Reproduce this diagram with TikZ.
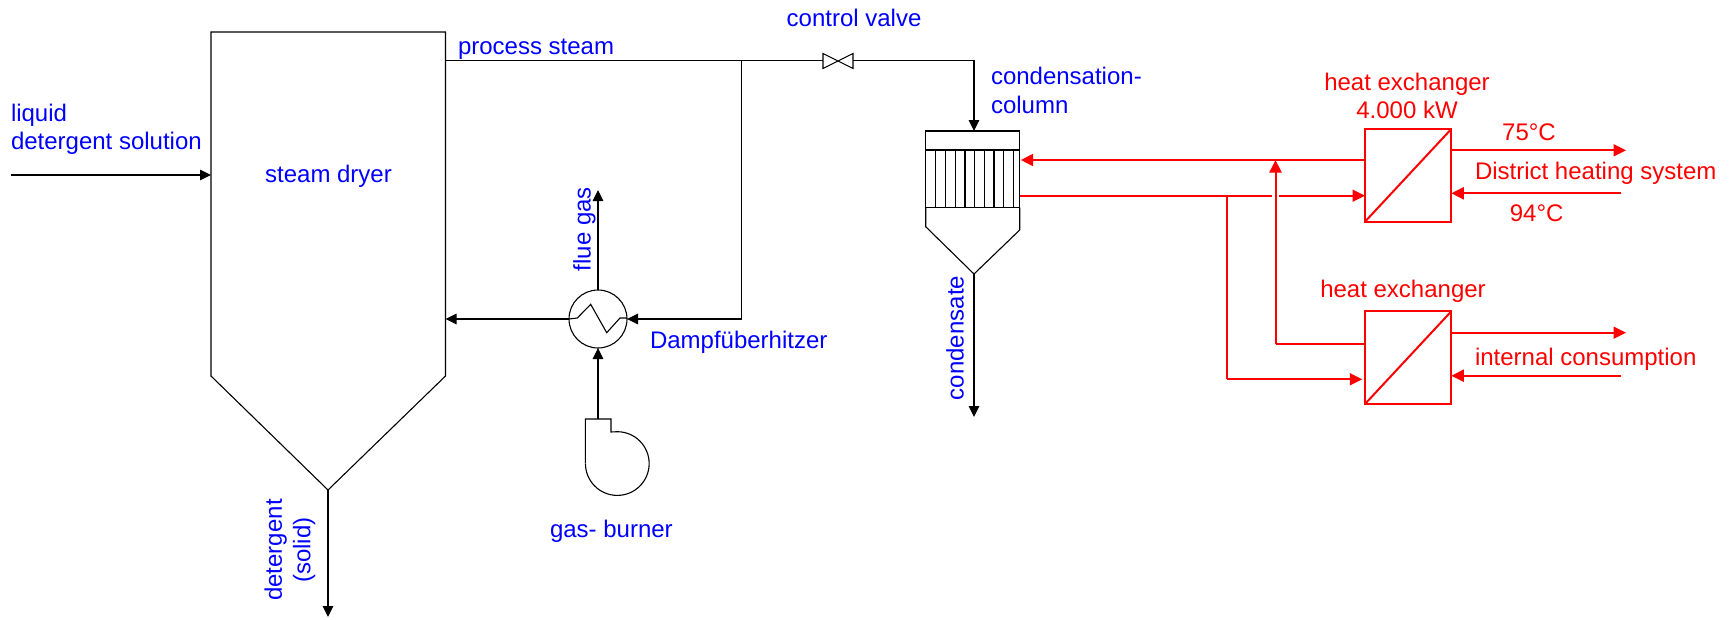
\documentclass[tikz,border=0pt]{standalone}
\usepackage{fontspec}
\setmainfont{Liberation Sans}
\usetikzlibrary{arrows.meta}
\tikzset{
  blk/.style={draw=black,line width=1.1pt,line join=miter},
  redl/.style={draw=red,line width=2pt,line join=miter},
  tipb/.style={-{Triangle[length=11pt,width=10.5pt]}},
  tipr/.style={-{Triangle[length=12.5pt,width=12pt]}},
  lab/.style={text=blue,inner sep=0pt,outer sep=0pt,font=\fontsize{24}{28.5}\selectfont},
  labr/.style={text=red,inner sep=0pt,outer sep=0pt,font=\fontsize{24}{28.5}\selectfont},
  hxbox/.style={draw=red,line width=2pt,fill=white,minimum width=86.3pt,minimum height=92.7pt,inner sep=0pt,outer sep=0pt},
  cell/.style={draw=black,line width=1.1pt,minimum width=94pt,inner sep=0pt,outer sep=0pt}
}
\begin{document}
\begin{tikzpicture}[x=1pt,y=-1pt]
\useasboundingbox (0,0) rectangle (1733,619);
% dryer
\coordinate (dTL) at (211,32);
\coordinate (dTR) at (445.5,32);
\coordinate (dSR) at (445.5,376);
\coordinate (dTip) at (328,490);
\coordinate (dSL) at (211,376);
\draw[blk] (dTL)--(dTR)--(dSR)--(dTip)--(dSL)--cycle;
\coordinate (dIn) at (211,175);
\coordinate (dSteam) at (445.5,60.7);
\coordinate (dBack) at (445.5,319);
\coordinate (liqStart) at (11,175);
\coordinate (dOut) at (328,617);
\draw[blk,tipb] (liqStart)--(dIn);
\draw[blk,tipb] (dTip)--(dOut);
% heater
\node[circle,draw=black,line width=1.1pt,minimum size=58pt,inner sep=0pt,outer sep=0pt] (heater) at (598,319) {};
\draw[blk] (569,319)--(577.3,318)--(590.7,304.3)--(606.7,332.7)--(620,318)--(627,318);
% valve
\coordinate (vL) at (823,60.7); \coordinate (vR) at (853,60.7);
\draw[blk,fill=white] (823,53.5)--(853,68.5)--(853,53.5)--(823,68.5)--cycle;
% steam lines
\coordinate (branch) at (741.5,60.7);
\coordinate (branchDown) at (741.5,319);
\coordinate (colCorner) at (974,60.7);
\draw[blk] (dSteam)--(vL);
\draw[blk] (branch)--(branchDown);
\draw[blk,tipb] (branchDown)--(heater.east);
\draw[blk,tipb] (heater.west)--(dBack);
\coordinate (flueEnd) at (598,190);
\draw[blk,tipb] (heater.north)--(flueEnd);
% burner
\coordinate (bTop) at (598,419);
\draw[blk] (585.3,463)--(585.3,419)--(611,419)--(611,432) -- (617.3,431.7) arc[start angle=-90,end angle=180,radius=31.85] ;
\draw[blk,tipb] (bTop)--(heater.south);
% column
\node[cell,minimum height=19pt] (colHead) at (972.7,140.5) {};
\node[cell,minimum height=57.5pt] (colTubes) at (972.7,178.75) {};
\foreach \xx in {935.7,945.3,955.3,965,974.7,984.3,994,1003.7,1013.3}
  \draw[black,line width=1.1pt] (\xx,150)--(\xx,207.5);
\coordinate (colTip) at (974,274);
\draw[blk] (colTubes.south west)--(925.7,226.7)--(colTip)--(1019.7,230)--(colTubes.south east);
\draw[blk,tipb] (vR)--(colCorner)--(colHead.north -| colCorner);
\coordinate (condEnd) at (974,417);
\draw[blk,tipb] (colTip)--(condEnd);
% heat exchangers
\node[hxbox] (hxA) at (1408.15,175.35) {};
\node[hxbox] (hxB) at (1408.15,357.65) {};
\draw[redl] (hxA.south west)--(hxA.north east);
\draw[redl] (hxB.south west)--(hxB.north east);
% red connectors
\coordinate (colRet) at (1020.7,160);
\coordinate (colOut) at (1019.7,195.7);
\coordinate (hxAret) at (1365,160);
\coordinate (hxAin) at (1365,195.7);
\coordinate (juncTop) at (1275.5,160);
\coordinate (juncLow) at (1226.5,195.7);
\coordinate (hxBoutC) at (1275.5,343.5);
\coordinate (hxBout) at (1364,343.5);
\coordinate (hxBinC) at (1226.5,379.3);
\coordinate (hxBin) at (1362.3,379.3);
\draw[redl,tipr] (hxAret)--(colRet);
\draw[redl,tipr] (colOut)--(hxAin);
\draw[redl] (juncLow)--(hxBinC);
\draw[redl,tipr] (hxBinC)--(hxBin);
\draw[white,line width=6.5pt] (1275.5,189)--(1275.5,202);
\draw[redl] (hxBout)--(hxBoutC);
\draw[redl,tipr] (hxBoutC)--(juncTop);
\coordinate (dhOut) at (1626,150.3);
\coordinate (dhOutS) at (1451.3,150.3);
\coordinate (dhIn) at (1620.7,193.3);
\coordinate (dhInE) at (1451.3,193.3);
\coordinate (icOut) at (1626,332.7);
\coordinate (icOutS) at (1451.3,332.7);
\coordinate (icIn) at (1620.7,375.7);
\coordinate (icInE) at (1451.3,375.7);
\draw[redl,tipr] (dhOutS)--(dhOut);
\draw[redl,tipr] (dhIn)--(dhInE);
\draw[redl,tipr] (icOutS)--(icOut);
\draw[redl,tipr] (icIn)--(icInE);
% labels
\node[lab,anchor=west,align=left] (tLiq) at (11,129.5) {liquid\\detergent solution};
\node[lab,anchor=west] (tProc) at (458,49) {process steam};
\node[lab] (tDry) at (328.5,176.5) {steam dryer};
\node[lab,rotate=90] (tFlue) at (584.5,229) {flue gas};
\node[lab,rotate=90,align=center] (tDet) at (290,550) {detergent\\(solid)};
\node[lab,anchor=west] (tDampf) at (650,342) {Dampfüberhitzer};
\node[lab,anchor=west] (tGas) at (550,531) {gas- burner};
\node[lab,anchor=west] (tValve) at (786.7,18) {control valve};
\node[lab,anchor=west,align=left] (tCond) at (991,90.5) {condensation-\\column};
\node[lab,rotate=90] (tCs) at (955,338) {condensate};
\node[labr,align=center] (tHxA) at (1407,96) {heat exchanger\\4.000 kW};
\node[labr] (t75) at (1529,132.7) {75°C};
\node[labr,anchor=west] (tDh) at (1475,173) {District heating system};
\node[labr] (t94) at (1536.7,213.7) {94°C};
\node[labr] (tHxB) at (1403,291) {heat exchanger};
\node[labr,anchor=west] (tIc) at (1475,359) {internal consumption};
\end{tikzpicture}
\end{document}
